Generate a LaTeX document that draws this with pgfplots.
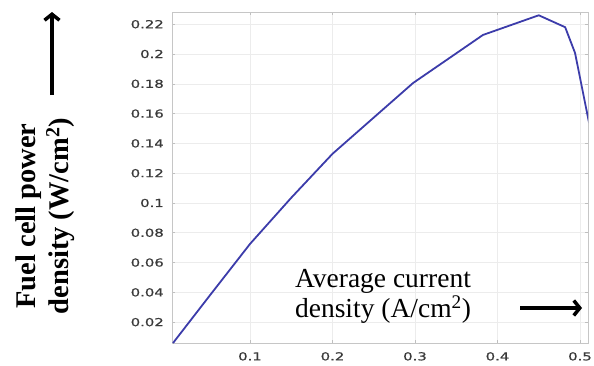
\documentclass[border=0pt]{standalone}
\usepackage{fontspec}
\setmainfont{Liberation Serif}
\newfontfamily\tickfont[FakeStretch=1.35,FakeBold=0.6]{DejaVu Sans}
\usepackage{pgfplots}
\pgfplotsset{compat=1.18}
\usetikzlibrary{arrows.meta}
\definecolor{curve}{HTML}{3C3CAA}
\definecolor{ticktext}{HTML}{3A3A3A}
\begin{document}
\begin{tikzpicture}[x=1pt,y=1pt]
\path[use as bounding box] (-172,-22) rectangle (422,343);
\begin{axis}[
  at={(0,0)}, anchor=south west,
  scale only axis, width=416pt, height=331pt,
  xmin=0.00545, xmax=0.5097, ymin=0.006, ymax=0.2282,
  xtick={0.1,0.2,0.3,0.4,0.5},
  ytick={0.02,0.04,0.06,0.08,0.1,0.12,0.14,0.16,0.18,0.2,0.22},
  grid=major,
  grid style={gray!15, line width=0.6pt},
  axis line style={gray!45, line width=0.8pt},
  tick style={gray!50, line width=0.6pt},
  major tick length=3pt,
  tick align=inside,
  /pgf/number format/assume math mode=true,
  /pgf/number format/fixed,
  /pgf/number format/precision=2,
  tick label style={font=\fontsize{11}{13}\tickfont, text=ticktext, inner sep=0pt},
  yticklabel style={xshift=-8pt},
  xticklabel style={yshift=-9pt},
]
\addplot[curve, line width=1.8pt] coordinates {
(0.0067,0.006) (0.05,0.037) (0.1,0.0725) (0.15,0.1035) (0.2,0.133)
(0.2976,0.1805) (0.3824,0.2128) (0.450,0.226) (0.482,0.218)
(0.494,0.2007) (0.511,0.1537)
};
\end{axis}
\node[rotate=90, align=center, font=\fontsize{28.5}{33}\selectfont\bfseries] at (-127,127) {Fuel cell power\\density (W/cm\textsuperscript{2})};
\node[align=center, font=\fontsize{27.5}{30}\selectfont] at (211,47) {Average current\\density (A/cm\textsuperscript{2})};
\draw[line width=3.5pt, -{Straight Barb[length=6pt,width=15pt]}] (-120,248) -- (-120,331);
\draw[line width=3.5pt, -{Straight Barb[length=6pt,width=15pt]}] (348,35) -- (410,35);
\end{tikzpicture}
\end{document}
